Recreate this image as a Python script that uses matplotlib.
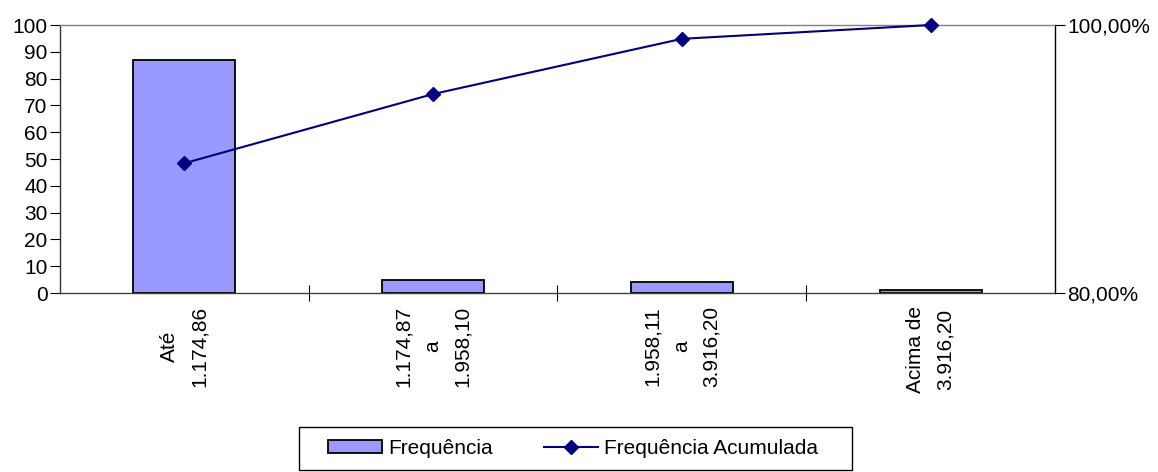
import matplotlib.pyplot as plt
from matplotlib.patches import Rectangle
from matplotlib.ticker import FuncFormatter

plt.rcParams['font.family'] = ['Liberation Sans', 'DejaVu Sans']

# dados
categorias = ['Até\n1.174,86', '1.174,87\na\n1.958,10', '1.958,11\na\n3.916,20', 'Acima de\n3.916,20']
frequencia = [87, 5, 4, 1]
freq_acumulada = [89.69, 94.85, 98.97, 100.0]

fig = plt.figure(figsize=(11.58, 4.72), dpi=100)
ax = fig.add_axes([0.0518, 0.379, 0.8592, 0.568])
x = list(range(len(categorias)))

ax.bar(x, frequencia, width=0.41, color='#9999FF', edgecolor='black', linewidth=1.3,
       label='Frequência', zorder=2)
ax.set_xlim(-0.5, len(categorias) - 0.5)
ax.set_ylim(0, 100)
ax.set_yticks(range(0, 101, 10))
ax.tick_params(axis='y', labelsize=15, length=7, width=0.8, direction='out', pad=2)

# ticks nas divisões das categorias, rótulos no centro
ax.set_xticks([i + 0.5 for i in x[:-1]])
ax.set_xticklabels([])
ax.tick_params(axis='x', which='major', length=12, direction='inout', width=0.8)
ax.set_xticks(x, minor=True)
ax.set_xticklabels(categorias, minor=True, rotation=90, fontsize=15,
                   ha='center', va='top', multialignment='center', linespacing=1.7)
ax.tick_params(axis='x', which='minor', length=0, pad=9)

ax.spines['top'].set_color('#808080')
ax.spines['left'].set_color('#333333')
ax.spines['bottom'].set_color('#404040')
ax.spines['right'].set_color('black')
for s in ax.spines.values():
    s.set_linewidth(1.0)

ax2 = ax.twinx()
ax2.plot(x, freq_acumulada, color='#000080', marker='D', markersize=7, linewidth=1.5,
         label='Frequência Acumulada', zorder=3, clip_on=False)
ax2.set_ylim(80, 100)
ax2.set_yticks([80, 100])
ax2.yaxis.set_major_formatter(FuncFormatter(lambda v, p: f'{v:.2f}%'.replace('.', ',')))
ax2.tick_params(axis='y', labelsize=15, length=7, width=0.8, direction='out', pad=2)
for s in ax2.spines.values():
    s.set_visible(False)

# caixa da legenda
fig.patches.append(Rectangle((0.2582, 0.0042), 0.4775, 0.0911, transform=fig.transFigure,
                             fill=False, edgecolor='black', linewidth=1.0))
h1, l1 = ax.get_legend_handles_labels()
h2, l2 = ax2.get_legend_handles_labels()
fig.legend(h1 + h2, l1 + l2, loc='center left', bbox_to_anchor=(0.2832, 0.050), ncol=2,
           fontsize=15, frameon=False, borderpad=0, borderaxespad=0,
           handlelength=2.6, handleheight=0.6, columnspacing=2.45, handletextpad=0.3)

fig.savefig('out.png', dpi=100)
